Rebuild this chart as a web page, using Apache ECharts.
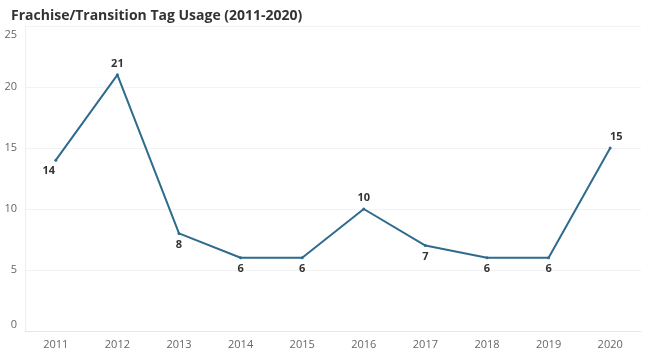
<!DOCTYPE html>
<html><head><meta charset="utf-8">
<script src="https://cdn.jsdelivr.net/npm/echarts@6/dist/echarts.min.js"></script>
<style>html,body{margin:0;padding:0;background:#fff}#c{width:664px;height:361px}</style>
</head><body><div id="c"></div>
<script>
var years = ['2011','2012','2013','2014','2015','2016','2017','2018','2019','2020'];
var usage = [14, 21, 8, 6, 6, 10, 7, 6, 6, 15];
var labelPos = ['bottom','top','bottom','bottom','bottom','top','bottom','bottom','bottom','top'];
var yTicks = [0, 5, 10, 15, 20, 25];

var chart = echarts.init(document.getElementById('c'));
chart.setOption({
  animation: false,
  title: {
    text: 'Frachise/Transition Tag Usage (2011-2020)',
    left: 6, top: 4,
    textStyle: {fontFamily: 'Open Sans', fontSize: 14, fontWeight: 'bold', color: '#333'}
  },
  grid: {left: 25, right: 23, top: 26, bottom: 30},
  xAxis: {
    type: 'category', data: years, boundaryGap: true,
    axisLine: {show: true, lineStyle: {color: '#e6e6e6'}},
    axisTick: {show: false},
    axisLabel: {color: '#666', fontFamily: 'Open Sans', fontSize: 11, margin: 8},
    splitLine: {show: false}
  },
  yAxis: {
    type: 'value', min: 0, max: 25, interval: 5,
    axisLine: {show: true, lineStyle: {color: '#eeeeee'}},
    axisTick: {show: false},
    axisLabel: {color: '#666', fontFamily: 'Open Sans', fontSize: 11, margin: 8,
      formatter: function(v){
        if (yTicks.indexOf(v) < 0) return '';
        if (v === 25) return '{top|25}';
        if (v === 0) return '{bot|0}';
        return String(v);
      },
      rich: {
        top: {color: '#666', fontFamily: 'Open Sans', fontSize: 11, padding: [18, 0, 0, 0]},
        bot: {color: '#666', fontFamily: 'Open Sans', fontSize: 11, padding: [0, 0, 12, 0]}
      }
    },
    splitLine: {show: true, lineStyle: {color: '#f3f3f3'}}
  },
  series: [{
    type: 'line',
    data: usage.map(function(v, i){
      var lab = {position: labelPos[i]};
      if (i === 0) lab.offset = [-7, 0];
      if (i === usage.length - 1) lab.offset = [6, 0];
      return {value: v, label: lab};
    }),
    symbol: 'circle', symbolSize: 3,
    itemStyle: {color: '#2e6b8c'},
    lineStyle: {color: '#2e6b8c', width: 2},
    label: {show: true, color: '#333', fontFamily: 'Open Sans', fontSize: 11, fontWeight: 'bold', distance: 4}
  }]
});
</script></body></html>
